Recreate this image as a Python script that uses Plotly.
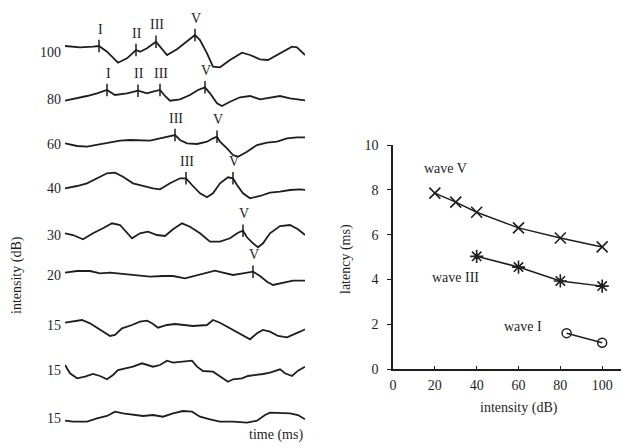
import numpy as np
import plotly.graph_objects as go

# ---------------- Left panel: ABR waveforms ----------------
# time in samples (1 sample = 1/24 ms), amplitude in arbitrary units
intensity_labels = ["100", "80", "60", "40", "30", "20", "15", "15", "15"]

t100 = [0, 15, 28, 34, 42, 53, 62, 71, 75, 82, 91, 95, 102, 112, 122, 130, 135, 142, 148, 155, 165, 177, 185, 195, 203, 212, 218, 227, 232, 240]
a100 = [6.0, 4.7, 5.3, 6.0, 0.3, -10.7, -6.3, 2.0, 0.3, 3.7, 10.3, 5.3, -3.0, 2.7, 10.3, 17.0, 12.0, -1.3, -14.7, -15.3, -8.0, -0.7, -3.0, -7.3, -8.0, -3.0, 0.3, 5.3, 4.7, -3.0]

t80 = [0, 12, 22, 32, 42, 50, 62, 73, 82, 88, 95, 100, 105, 115, 125, 133, 140, 145, 152, 157, 165, 175, 185, 195, 205, 215, 225, 235, 242]
a80 = [-1.7, 0.7, 3.0, 5.7, 9.0, 4.0, 5.7, 8.3, 5.7, 7.3, 9.0, 3.0, -1.7, -0.3, 4.0, 9.0, 11.7, 5.7, -4.3, -7.0, -2.7, 1.7, 3.0, -0.3, 1.7, 3.0, 0.7, -0.3, -1.7]

t60 = [0, 12, 22, 32, 45, 55, 65, 75, 85, 95, 105, 110, 115, 122, 132, 142, 148, 152, 155, 162, 168, 173, 182, 192, 202, 212, 222, 232, 242]
a60 = [0.7, -2.0, -2.7, -1.0, 1.3, 3.3, 4.0, 3.3, 3.3, 5.7, 8.0, 9.0, 4.0, 0.7, 0.0, 2.3, 5.7, 7.3, 2.3, -4.3, -11.0, -12.7, -7.7, -1.0, 1.3, 2.3, 5.7, 6.7, 6.7]

t40 = [0, 12, 22, 32, 42, 50, 58, 68, 78, 88, 95, 105, 115, 121, 127, 135, 142, 148, 155, 163, 168, 172, 178, 185, 195, 205, 215, 225, 235, 242]
a40 = [-0.3, 2.0, 4.7, 9.7, 14.7, 15.3, 11.3, 4.7, 2.0, -0.3, -1.3, 4.7, 9.7, 9.7, 3.0, -5.3, -9.3, -5.3, 4.7, 10.7, 9.7, 3.0, -5.3, -10.3, -8.0, -4.7, -3.7, -2.0, -1.3, -2.0]

t30 = [0, 8, 18, 28, 38, 47, 55, 62, 67, 75, 83, 92, 100, 108, 117, 125, 135, 145, 155, 165, 173, 178, 182, 188, 193, 198, 205, 215, 225, 233, 240]
a30 = [1.7, 0.0, -4.3, 1.7, 6.7, 11.7, 10.0, 1.7, -3.3, 1.7, 3.3, 0.0, -1.0, 5.7, 11.7, 8.3, 1.7, -6.7, -6.7, -3.3, 2.3, 4.3, -2.3, -8.3, -12.3, -8.3, 1.7, 9.0, 10.0, 5.7, 0.0]

t20 = [0, 12, 25, 35, 45, 58, 72, 85, 98, 108, 120, 132, 142, 150, 158, 168, 178, 188, 195, 202, 208, 218, 228, 242]
a20 = [2.3, 4.0, 4.0, 1.7, 2.3, 1.0, -1.0, -1.7, -1.0, -1.0, -3.3, 0.0, 2.3, 4.3, 2.3, 0.0, 1.7, 3.3, -1.0, -6.7, -10.0, -7.7, -5.7, -5.7]

t15a = [0, 8, 17, 25, 35, 45, 50, 57, 67, 75, 82, 87, 93, 102, 110, 118, 128, 142, 148, 155, 165, 175, 185, 192, 198, 205, 213, 222, 228, 235, 240]
a15a = [2.3, 3.3, 5.0, 1.7, -5.0, -11.0, -10.0, -3.3, 0.0, 3.3, 4.3, 1.7, -2.7, 0.0, 1.0, 0.0, -1.0, 0.0, 5.0, 2.3, -3.3, -8.3, -14.3, -8.3, -5.0, -6.7, -11.0, -12.3, -10.0, -6.7, -4.3]

t15b = [0, 5, 12, 20, 28, 35, 42, 48, 53, 62, 68, 77, 82, 88, 95, 102, 108, 115, 127, 132, 138, 148, 155, 163, 168, 177, 183, 192, 198, 205, 215, 220, 227, 233, 240]
a15b = [5.0, -3.3, -8.3, -6.7, -4.0, -6.0, -9.3, -5.0, 0.0, 1.7, 3.3, 6.7, 5.0, 3.3, 5.0, 9.3, 7.3, 8.3, 9.3, 3.3, -1.0, -1.7, -6.7, -11.7, -9.3, -8.3, -6.0, -5.0, -4.0, -2.7, 0.7, -3.3, -6.0, -0.7, 3.3]

t15c = [0, 8, 22, 32, 42, 50, 58, 68, 78, 88, 98, 108, 118, 127, 135, 145, 155, 168, 182, 192, 200, 205, 215, 225, 233, 240]
a15c = [-2.7, -3.7, -3.7, -0.3, 2.0, 6.3, 4.7, 3.0, 2.0, 3.0, 1.3, 4.7, 7.0, 6.3, 1.3, -1.3, -3.7, -3.7, -4.7, -2.7, 3.0, 5.3, 5.3, 4.7, 3.0, -1.3]

wave_times = [t100, t80, t60, t40, t30, t20, t15a, t15b, t15c]
wave_amps = [a100, a80, a60, a40, a30, a20, a15a, a15b, a15c]

# marked peaks (sample index) per trace
peak_names = [["I", "II", "III", "V"], ["I", "II", "III", "V"], ["III", "V"], ["III", "V"], ["V"], ["V"], [], [], []]
peak_times = [[34, 71, 91, 130], [42, 73, 95, 140], [110, 152], [121, 168], [178], [188], [], [], []]

# ---------------- Right panel: latency vs intensity ----------------
waveV_db = [20, 30, 40, 60, 80, 100]
waveV_lat = [7.85, 7.45, 7.0, 6.3, 5.85, 5.45]
waveIII_db = [40, 60, 80, 100]
waveIII_lat = [5.03, 4.55, 3.93, 3.7]
waveI_db = [83, 100]
waveI_lat = [1.6, 1.17]

# ---------------- layout constants ----------------
W, H = 625, 448
trace_base = [52, 99, 144, 188, 235, 275, 325, 370, 418]   # vertical stacking (px from top)
FONT = "Liberation Serif"
INK = "#1e1e1e"

fig = go.Figure()

for i in range(len(wave_times)):
    t = np.array(wave_times[i], dtype=float)
    a = np.array(wave_amps[i], dtype=float)
    fig.add_trace(go.Scatter(x=t, y=a - trace_base[i], mode="lines",
                             line=dict(color=INK, width=1.8, shape="linear"),
                             xaxis="x", yaxis="y", showlegend=False, hoverinfo="skip"))
    if peak_times[i]:
        pt = np.array(peak_times[i], dtype=float)
        pa = np.interp(pt, t, a) - trace_base[i]
        fig.add_trace(go.Scatter(x=pt, y=pa, mode="markers",
                                 marker=dict(symbol="line-ns-open", size=9, color=INK,
                                             line=dict(color=INK, width=1.5)),
                                 xaxis="x", yaxis="y", showlegend=False, hoverinfo="skip"))
        for name, x0, y0 in zip(peak_names[i], pt, pa):
            fig.add_annotation(x=x0, y=y0, xref="x", yref="y", text=name,
                               showarrow=False, yshift=17, xshift=1,
                               xanchor="center", yanchor="middle",
                               font=dict(family=FONT, size=14, color=INK))

# right panel series
fig.add_trace(go.Scatter(x=waveV_db, y=waveV_lat, mode="lines+markers",
                         line=dict(color=INK, width=1.5),
                         marker=dict(symbol="x-thin-open", size=11, color=INK, line=dict(color=INK, width=1.6)),
                         xaxis="x2", yaxis="y2", showlegend=False))
fig.add_trace(go.Scatter(x=waveIII_db, y=waveIII_lat, mode="lines+markers",
                         line=dict(color=INK, width=1.5),
                         marker=dict(symbol="asterisk-open", size=11, color=INK, line=dict(color=INK, width=1.6)),
                         xaxis="x2", yaxis="y2", showlegend=False))
fig.add_trace(go.Scatter(x=waveI_db, y=waveI_lat, mode="lines+markers",
                         line=dict(color=INK, width=1.5),
                         marker=dict(symbol="circle-open", size=9, color=INK, line=dict(color=INK, width=1.5)),
                         xaxis="x2", yaxis="y2", showlegend=False))

for txt, x0, y0 in [("wave V", 25, 8.93), ("wave III", 29.7, 4.1), ("wave I", 62.2, 1.88)]:
    fig.add_annotation(x=x0, y=y0, xref="x2", yref="y2", text=txt, showarrow=False,
                       xanchor="center", yanchor="middle",
                       font=dict(family=FONT, size=14, color=INK))

# axis titles
for txt, px, py, ang in [("intensity (dB)", 17, 275, -90), ("time (ms)", 276, 435, 0),
                         ("latency (ms)", 346, 259, -90), ("intensity (dB)", 519, 408, 0)]:
    fig.add_annotation(x=px / W, y=1 - py / H, xref="paper", yref="paper", text=txt,
                       textangle=ang, showarrow=False, xanchor="center", yanchor="middle",
                       font=dict(family=FONT, size=14, color=INK))

fig.update_layout(
    width=W, height=H, margin=dict(l=0, r=0, t=0, b=0, autoexpand=False),
    paper_bgcolor="white", plot_bgcolor="white",
    font=dict(family=FONT, size=14, color=INK),
    xaxis=dict(domain=[65 / W, 305 / W], range=[0, 240], visible=False, fixedrange=True),
    yaxis=dict(domain=[0, 1], range=[-H, 0], showgrid=False, zeroline=False, showline=False,
               tickvals=[-b for b in trace_base], ticktext=intensity_labels, ticks="",
               ticklabelstandoff=3, tickfont=dict(family=FONT, size=14, color=INK)),
    xaxis2=dict(domain=[393 / W, 621 / W], range=[0, 109], anchor="y2",
                showgrid=False, zeroline=False, showline=True, linecolor=INK, linewidth=1.6,
                tickvals=[0, 20, 40, 60, 80, 100], ticks="inside", ticklen=3, tickcolor=INK,
                ticklabelstandoff=2, tickfont=dict(family=FONT, size=14, color=INK)),
    yaxis2=dict(domain=[1 - 369 / H, 1 - 145 / H], range=[0, 10], anchor="x2",
                showgrid=False, zeroline=False, showline=True, linecolor=INK, linewidth=1.6,
                tickvals=[0, 2, 4, 6, 8, 10], ticks="outside", ticklen=4, tickcolor=INK,
                ticklabelstandoff=6, tickfont=dict(family=FONT, size=14, color=INK)),
)

fig.write_html("out.html")
